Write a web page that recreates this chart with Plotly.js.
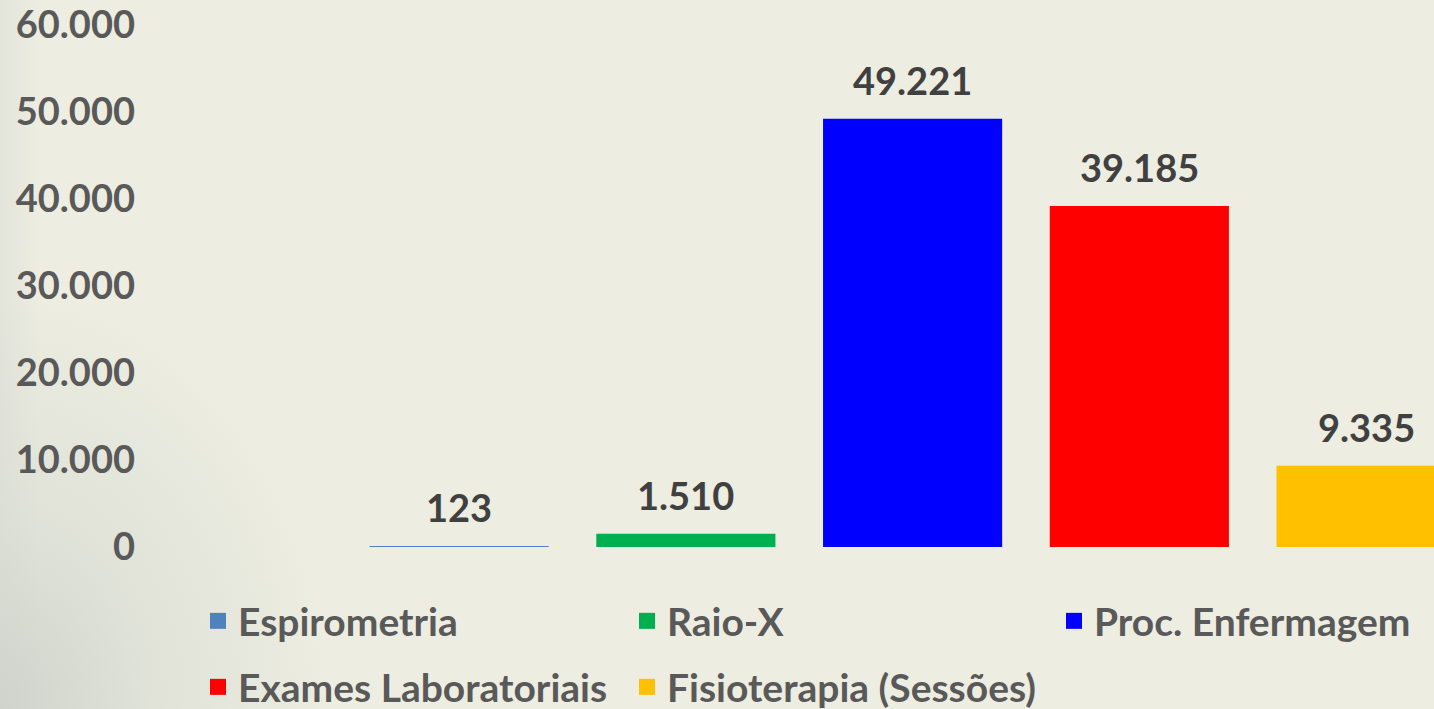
<!DOCTYPE html>
<html><head><meta charset="utf-8">
<script src="https://cdn.plot.ly/plotly-3.0.1.min.js"></script>
<style>
html,body{margin:0;padding:0;}
body{background-color:#EDEDE1;
 background-image:radial-gradient(ellipse 330px 420px at 0px 709px, rgba(205,210,203,0.95) 0%, rgba(215,219,210,0.6) 45%, rgba(237,237,225,0) 100%),
 linear-gradient(to right, rgba(220,222,214,0.6) 0px, rgba(237,237,225,0) 40px);}
#chart{width:1434px;height:709px;}
</style>
</head><body><div id="chart"></div>
<script>
const categories = ["Espirometria", "Raio-X", "Proc. Enfermagem", "Exames Laboratoriais", "Fisioterapia (Sessões)"];
const values = [123, 1510, 49221, 39185, 9335];
const valueLabels = ["123", "1.510", "49.221", "39.185", "9.335"];
const colors = ["#4F81BD", "#00B050", "#0000FF", "#FF0000", "#FFC000"];
const tickValues = [0, 10000, 20000, 30000, 40000, 50000, 60000];
const tickLabels = ["0", "10.000", "20.000", "30.000", "40.000", "50.000", "60.000"];

const FONT = "Lato, 'Open Sans', sans-serif";
const legendIds = ["legend", "legend2", "legend3", "legend4", "legend5"];
const traces = [{
  type: "bar", x: categories, y: values,
  marker: {color: colors}, width: 0.79, showlegend: false, hoverinfo: "x+y"
}];
categories.forEach((c, i) => {
  traces.push({
    type: "scatter", mode: "markers", x: [null], y: [null], name: c,
    marker: {symbol: "square", size: 16, color: colors[i]},
    legend: legendIds[i], showlegend: true
  });
});
const annotations = categories.map((c, i) => ({
  x: c, y: values[i], text: valueLabels[i], showarrow: false,
  yanchor: "bottom", yshift: 14,
  font: {family: FONT, size: 38, color: "#404040", weight: "bold"}
}));
const legendFont = {family: FONT, size: 39, color: "#595959", weight: "bold"};
// legend slots: [left px of text, centre y px]
const legendPos = [[238, 621], [667, 621], [1094, 621], [238, 687], [667, 687]];
const layout = {
  width: 1434, height: 709,
  paper_bgcolor: "rgba(0,0,0,0)", plot_bgcolor: "rgba(0,0,0,0)",
  margin: {l: 140, r: 0, t: 25, b: 162, autoexpand: false},
  xaxis: {type: "category", range: [-1.4075, 4.2996], showticklabels: false,
          showgrid: false, zeroline: false, showline: false, fixedrange: true},
  yaxis: {range: [0, 60000], tickvals: tickValues, ticktext: tickLabels,
          showgrid: false, zeroline: false, showline: false, ticks: "", ticklabelstandoff: 4,
          tickfont: {family: FONT, size: 38, color: "#595959", weight: "bold"}},
  annotations: annotations
};
legendIds.forEach((id, i) => {
  layout[id] = {orientation: "h", xref: "container", yref: "container",
    x: (legendPos[i][0] - 40) / 1434, xanchor: "left",
    y: 1 - legendPos[i][1] / 709, yanchor: "middle",
    font: legendFont, bgcolor: "rgba(0,0,0,0)", borderwidth: 0};
});
Plotly.newPlot("chart", traces, layout, {displayModeBar: false, staticPlot: true});
</script></body></html>
